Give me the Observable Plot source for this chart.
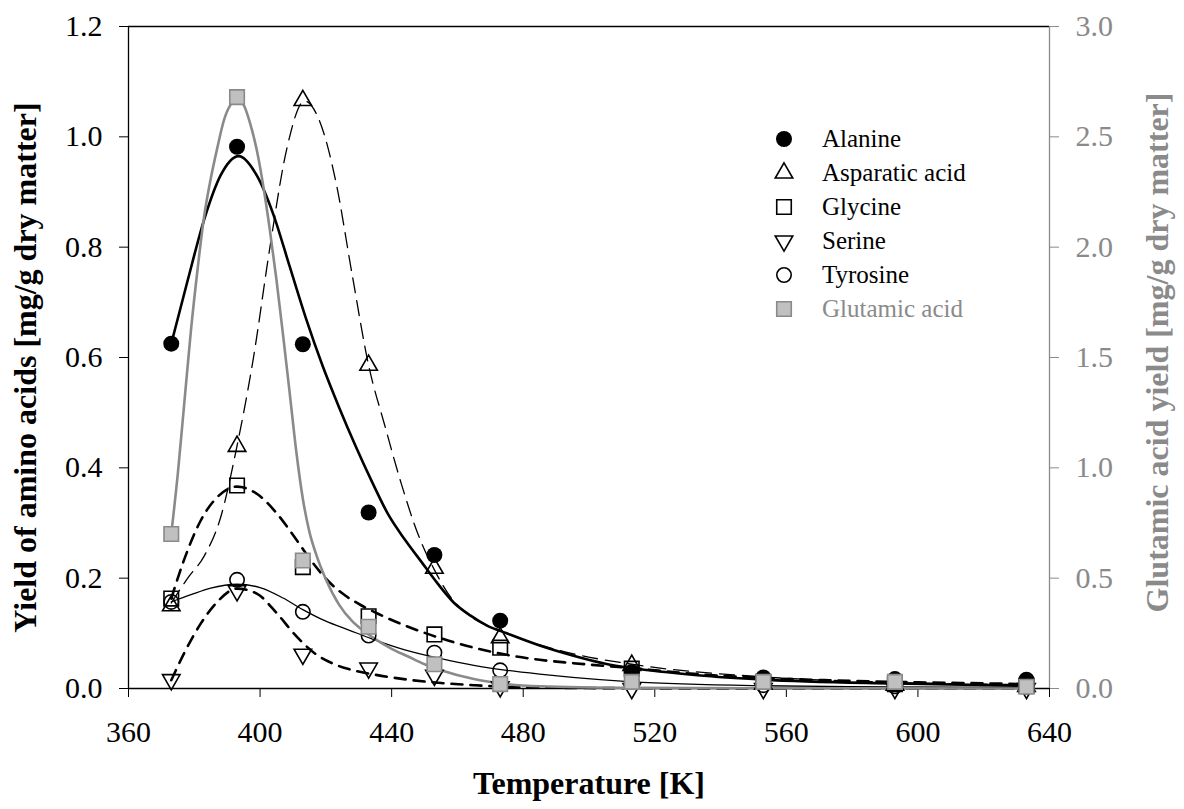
<!DOCTYPE html>
<html><head><meta charset="utf-8">
<script src="https://cdn.jsdelivr.net/npm/d3@7"></script>
<script src="https://cdn.jsdelivr.net/npm/@observablehq/plot@0.6"></script>
<style>
html,body{margin:0;padding:0;background:#fff;}
#chart{position:relative;width:1184px;height:809px;}
</style></head><body><div id="chart"></div>
<script>
// ---- measured points (left axis, mg/g) ----
const temps = [373, 393, 413, 433, 453, 473, 513, 553, 593, 633];
const alanine  = [0.625, 0.982, 0.624, 0.319, 0.242, 0.123, 0.030, 0.020, 0.017, 0.016];
const aspartic = [0.150, 0.439, 1.066, 0.586, 0.218, 0.092, 0.042, 0.008, 0.006, 0.004];
const glycine  = [0.163, 0.368, 0.220, 0.131, 0.098, 0.074, 0.036, 0.012, 0.008, 0.005];
const serine   = [0.016, 0.177, 0.062, 0.037, 0.024, 0.003, 0.000, 0.000, 0.000, 0.000];
const tyrosine = [0.157, 0.197, 0.139, 0.096, 0.065, 0.033, 0.012, 0.006, 0.004, 0.003];
// glutamic acid, right axis units
const glutamic = [0.70, 2.68, 0.58, 0.28, 0.11, 0.02, 0.03, 0.03, 0.03, 0.008];

// ---- fitted curves ----
const alanineCurveT = [373, 378, 383, 388, 393.5, 399, 404, 409, 414, 419, 424, 429, 434, 439, 444, 449, 454, 459, 464, 469, 475, 485, 495, 505, 513, 533, 553, 593, 633];
const alanineCurveV = [0.625, 0.74, 0.85, 0.93, 0.965, 0.93, 0.86, 0.765, 0.67, 0.585, 0.51, 0.44, 0.375, 0.315, 0.27, 0.23, 0.19, 0.155, 0.132, 0.114, 0.100, 0.078, 0.060, 0.045, 0.037, 0.024, 0.016, 0.009, 0.005];

const asparticCurveT = [373, 378, 383, 388, 393, 398, 403, 408, 413.5, 418, 423, 428, 433, 438, 443, 448, 453, 458, 463, 473, 493, 513, 553, 593, 633];
const asparticCurveV = [0.155, 0.20, 0.24, 0.31, 0.44, 0.60, 0.80, 0.975, 1.065, 1.03, 0.92, 0.75, 0.586, 0.475, 0.37, 0.28, 0.215, 0.165, 0.135, 0.105, 0.066, 0.044, 0.021, 0.011, 0.007];

const glycineCurveT = [373, 377, 382, 387, 393, 399, 405, 411, 416, 421, 426, 431, 436, 445, 455, 465, 475, 485, 495, 513, 533, 553, 573, 593, 613, 633];
const glycineCurveV = [0.163, 0.235, 0.305, 0.347, 0.366, 0.353, 0.318, 0.27, 0.228, 0.193, 0.168, 0.15, 0.135, 0.112, 0.091, 0.074, 0.061, 0.052, 0.046, 0.037, 0.026, 0.019, 0.015, 0.012, 0.010, 0.008];

const serineCurveT = [373, 377, 382, 387, 393, 399, 405, 411, 417, 423, 429, 435, 445, 455, 465, 475, 495, 513, 553, 593, 633];
const serineCurveV = [0.015, 0.065, 0.118, 0.157, 0.181, 0.172, 0.137, 0.095, 0.062, 0.043, 0.032, 0.025, 0.016, 0.010, 0.006, 0.003, 0.001, 0.0005, 0, 0, 0];

const tyrosineCurveT = [373, 379, 385, 393, 400, 407, 413, 420, 427, 434, 444, 455, 465, 475, 485, 495, 513, 553, 593, 633];
const tyrosineCurveV = [0.157, 0.170, 0.182, 0.189, 0.183, 0.164, 0.143, 0.122, 0.106, 0.090, 0.070, 0.054, 0.042, 0.033, 0.026, 0.020, 0.012, 0.005, 0.003, 0.002];

// glutamic curve, right axis units
const glutamicCurveT = [373, 375, 377, 379, 381, 383, 385, 387, 389, 391, 393, 395, 397, 399, 401, 403, 405, 407, 409, 411, 413, 415, 417, 420, 424, 428, 432, 436, 440, 445, 450, 455, 465, 475, 485, 513, 553, 633];
const glutamicCurveV = [0.70, 0.975, 1.30, 1.625, 1.90, 2.14, 2.31, 2.45, 2.575, 2.645, 2.67, 2.645, 2.56, 2.44, 2.275, 2.075, 1.85, 1.60, 1.34, 1.075, 0.86, 0.71, 0.61, 0.495, 0.38, 0.305, 0.255, 0.215, 0.18, 0.145, 0.11, 0.083, 0.043, 0.02, 0.01, 0.003, 0.001, 0];

// ---- axes ----
const xTicks = [360, 400, 440, 480, 520, 560, 600, 640];
const leftTicks = [0, 0.2, 0.4, 0.6, 0.8, 1.0, 1.2];
const leftMax = 1.2, rightMax = 3.0;
const ratio = leftMax / rightMax;

const names = ["Alanine", "Asparatic acid", "Glycine", "Serine", "Tyrosine", "Glutamic acid"];
const xTitle = "Temperature [K]";
const yTitle = "Yield of amino acids [mg/g dry matter]";
const y2Title = "Glutamic acid yield [mg/g dry matter]";

const GRAY = "#8a8a8a";
const GRAYFILL = "#c0c0c0";
const FONT = "'Liberation Serif','Times New Roman',serif";

const pts = (T, V, k = 1) => T.map((t, i) => ({x: t, y: V[i] * k}));

const series = [
  {name: names[0], pts: pts(temps, alanine), curve: pts(alanineCurveT, alanineCurveV), sym: "circle", r: 8, fill: "#000", stroke: "none", lw: 2.6, dash: null, lc: "#000", rot: 0},
  {name: names[1], pts: pts(temps, aspartic), curve: pts(asparticCurveT, asparticCurveV), sym: "triangle", r: 6.5, fill: "none", stroke: "#000", lw: 1.3, dash: "15,8", lc: "#000", rot: 0},
  {name: names[2], pts: pts(temps, glycine), curve: pts(glycineCurveT, glycineCurveV), sym: "square", r: 8.2, fill: "none", stroke: "#000", lw: 2.6, dash: "11,8", lc: "#000", rot: 0},
  {name: names[3], pts: pts(temps, serine), curve: pts(serineCurveT, serineCurveV), sym: "triangle", r: 6.5, fill: "none", stroke: "#000", lw: 2.6, dash: "11,8", lc: "#000", rot: 180},
  {name: names[4], pts: pts(temps, tyrosine), curve: pts(tyrosineCurveT, tyrosineCurveV), sym: "circle", r: 7.2, fill: "none", stroke: "#000", lw: 1.3, dash: null, lc: "#000", rot: 0},
  {name: names[5], pts: pts(temps, glutamic, ratio), curve: pts(glutamicCurveT, glutamicCurveV, ratio), sym: "square", r: 8.2, fill: GRAYFILL, stroke: GRAY, lw: 2.6, dash: null, lc: GRAY, rot: 0}
];

const ML = 128, MR = 135, MT = 26, MB = 121;

const lineMarks = series.map(s => Plot.line(s.curve, {x: "x", y: "y", curve: "monotone-x", stroke: s.lc, strokeWidth: s.lw, strokeDasharray: s.dash || undefined}));
const dotMarks = series.map(s => Plot.dot(s.pts, {x: "x", y: "y", symbol: s.sym, r: s.r, fill: s.fill, stroke: s.stroke, strokeWidth: 1.6, rotate: s.rot}));

const plot = Plot.plot({
  width: 1184, height: 809,
  marginLeft: ML, marginRight: MR, marginTop: MT, marginBottom: MB,
  style: {fontFamily: FONT, fontSize: "30px", background: "#fff", color: "#000", overflow: "visible"},
  x: {domain: [360, 640]},
  y: {domain: [0, leftMax]},
  marks: [
    Plot.axisX({ticks: xTicks, tickSize: 9, tickPadding: 23, label: null, tickFormat: d => String(d), fontSize: 30}),
    Plot.axisY({anchor: "left", ticks: leftTicks, tickSize: 9, tickPadding: 17, label: null, tickFormat: d3.format(".1f"), fontSize: 30}),
    Plot.axisY({anchor: "right", ticks: leftTicks, tickSize: 9, tickPadding: 17, label: null, tickFormat: d => d3.format(".1f")(d / ratio), color: GRAY, fontSize: 30}),
    Plot.ruleY([0], {stroke: "#000", strokeWidth: 1.3}),
    Plot.ruleY([leftMax], {stroke: "#000", strokeWidth: 1.3}),
    Plot.ruleX([360], {stroke: "#000", strokeWidth: 1.3}),
    Plot.ruleX([640], {stroke: GRAY, strokeWidth: 1.3}),
    ...lineMarks,
    ...dotMarks,
    Plot.text([yTitle], {frameAnchor: "left", textAnchor: "middle", dx: -103, dy: 10, rotate: -90, fontWeight: "bold", fontSize: 32, fill: "#000"}),
    Plot.text([y2Title], {frameAnchor: "right", textAnchor: "middle", dx: 108, dy: -5, rotate: -90, fontWeight: "bold", fontSize: 32, fill: GRAY}),
    Plot.text([xTitle], {frameAnchor: "bottom", textAnchor: "middle", dy: 105, fontWeight: "bold", fontSize: 32, fill: "#000"})
  ]
});

// legend
const svg = d3.select(plot);
const lg = svg.append("g").attr("font-family", FONT).attr("font-size", 25).attr("text-anchor", "start");
const symMap = {circle: d3.symbolCircle, triangle: d3.symbolTriangle, square: d3.symbolSquare};
series.forEach((s, i) => {
  const y = 139 + 34 * i;
  lg.append("path")
    .attr("d", d3.symbol(symMap[s.sym], Math.PI * s.r * s.r)())
    .attr("transform", `translate(784,${y}) rotate(${s.rot})`)
    .attr("fill", s.fill).attr("stroke", s.stroke).attr("stroke-width", 1.6);
  lg.append("text").attr("x", 822).attr("y", y).attr("dy", "0.33em").attr("text-anchor", "start")
    .attr("fill", i === 5 ? GRAY : "#000").text(s.name);
});

document.getElementById("chart").appendChild(plot);
</script></body></html>
